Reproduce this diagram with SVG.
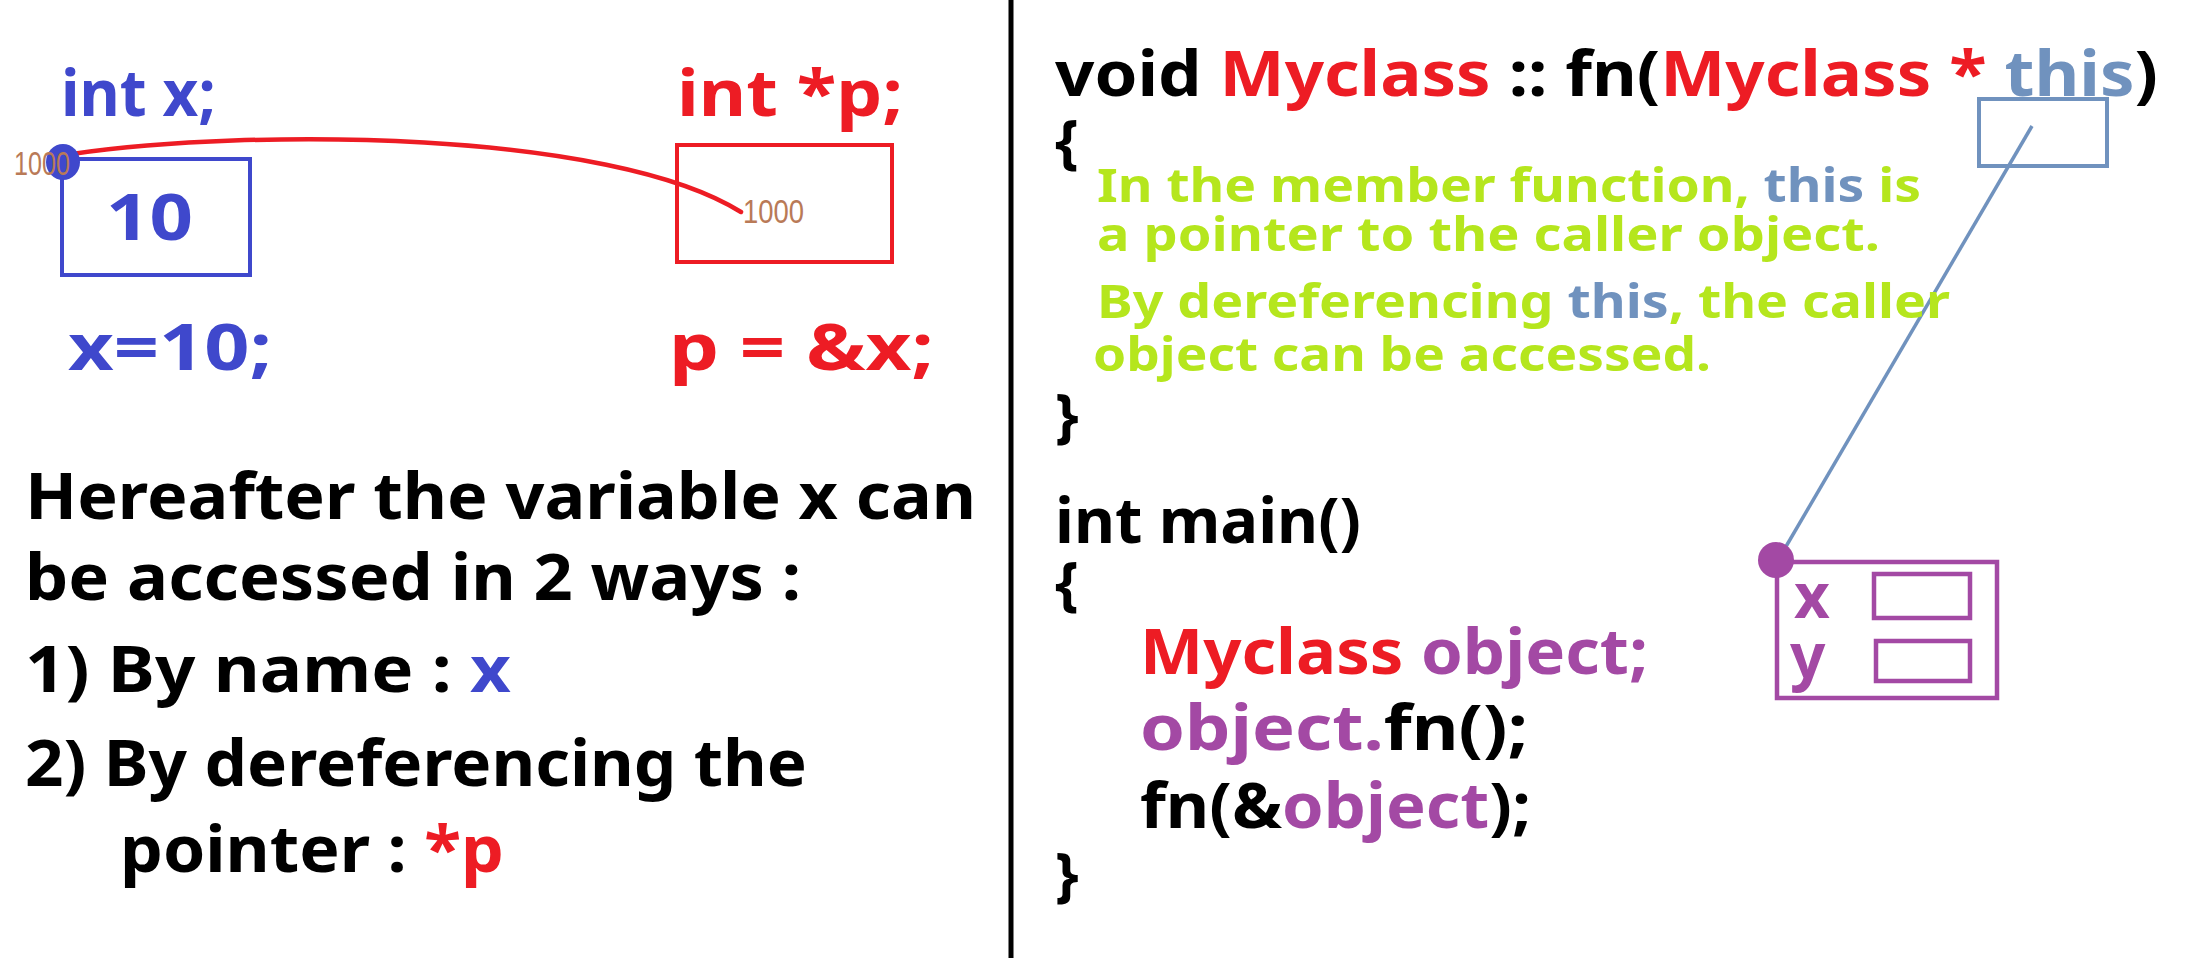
<svg xmlns="http://www.w3.org/2000/svg" width="2212" height="958" viewBox="0 0 2212 958">
<style>
text{font-family:"Noto Sans","DejaVu Sans",sans-serif;font-weight:bold;}
.big{font-size:64px;}
.code{font-size:62px;}
.brace{font-size:60px;}
.note{font-size:47px;fill:#b5e61d;}
.addr{font-family:"Liberation Sans Narrow","Liberation Sans",sans-serif;font-weight:normal;font-size:34px;fill:#b97a57;}
.blue{fill:#3f48cc;}
.red{fill:#ed1c24;}
.blk{fill:#000;}
.tb{fill:#7092be;}
.pur{fill:#a349a4;}
</style>
<rect width="2212" height="958" fill="#fff"/>

<line id="divider" x1="1011" y1="0" x2="1011" y2="958" stroke="#000" stroke-width="5"/>

<g id="connectors" fill="none">
<path d="M72,154 C250,128 610,130 741,212" stroke="#ed1c24" stroke-width="4.5" stroke-linecap="round"/>
<line x1="2032" y1="126" x2="1781" y2="555" stroke="#7092be" stroke-width="3.5"/>
</g>

<g id="var-x">
<text class="big blue" x="61" y="116" textLength="155" lengthAdjust="spacingAndGlyphs">int x;</text>
<rect x="62" y="159" width="188" height="116" fill="none" stroke="#3f48cc" stroke-width="4"/>
<ellipse cx="63" cy="162" rx="17" ry="18" fill="#3f48cc"/>
<text class="addr" x="14" y="175" textLength="56" lengthAdjust="spacingAndGlyphs">1000</text>
<text class="big blue" x="106" y="240" textLength="87" lengthAdjust="spacingAndGlyphs">10</text>
<text class="big blue" x="68" y="370" textLength="204" lengthAdjust="spacingAndGlyphs">x=10;</text>
</g>

<g id="ptr-p">
<text class="big red" x="677" y="116" textLength="226" lengthAdjust="spacingAndGlyphs">int *p;</text>
<rect x="677" y="145" width="215" height="117" fill="none" stroke="#ed1c24" stroke-width="4"/>
<text class="addr" x="743" y="223" textLength="61" lengthAdjust="spacingAndGlyphs">1000</text>
<text class="big red" x="669" y="370" textLength="265" lengthAdjust="spacingAndGlyphs">p = &amp;x;</text>
</g>

<g id="explanation">
<text class="big blk" x="25" y="519" textLength="951" lengthAdjust="spacingAndGlyphs">Hereafter the variable x can</text>
<text class="big blk" x="25" y="600" textLength="776" lengthAdjust="spacingAndGlyphs">be accessed in 2 ways :</text>
<text class="big blk" x="25" y="692" textLength="486" lengthAdjust="spacingAndGlyphs">1) By name : <tspan class="blue">x</tspan></text>
<text class="big blk" x="25" y="786" textLength="782" lengthAdjust="spacingAndGlyphs">2) By dereferencing the</text>
<text class="big blk" x="120" y="872" textLength="384" lengthAdjust="spacingAndGlyphs">pointer : <tspan class="red">*p</tspan></text>
</g>

<g id="member-fn">
<text class="code blk" x="1055" y="96" textLength="1103" lengthAdjust="spacingAndGlyphs">void <tspan class="red">Myclass</tspan> :: fn(<tspan class="red">Myclass *</tspan> <tspan class="tb">this</tspan>)</text>
<text class="brace blk" x="1055" y="162">{</text>
<text class="note" x="1097" y="202" textLength="824" lengthAdjust="spacingAndGlyphs">In the member function, <tspan class="tb">this</tspan> is</text>
<text class="note" x="1097" y="251" textLength="783" lengthAdjust="spacingAndGlyphs">a pointer to the caller object.</text>
<text class="note" x="1097" y="318" textLength="853" lengthAdjust="spacingAndGlyphs">By dereferencing <tspan class="tb">this</tspan>, the caller</text>
<text class="note" x="1093" y="371" textLength="618" lengthAdjust="spacingAndGlyphs">object can be accessed.</text>
<text class="brace blk" x="1055" y="436">}</text>
</g>

<g id="this-box">
<rect x="1979" y="99" width="128" height="67" fill="none" stroke="#7092be" stroke-width="4"/>
</g>

<g id="main-fn">
<text class="code blk" x="1055" y="543" textLength="306" lengthAdjust="spacingAndGlyphs">int main()</text>
<text class="brace blk" x="1055" y="604">{</text>
<text class="code pur" x="1140" y="674" textLength="508" lengthAdjust="spacingAndGlyphs"><tspan class="red">Myclass</tspan> object;</text>
<text class="code blk" x="1140" y="750" textLength="388" lengthAdjust="spacingAndGlyphs"><tspan class="pur">object.</tspan>fn();</text>
<text class="code blk" x="1140" y="828" textLength="391" lengthAdjust="spacingAndGlyphs">fn(&amp;<tspan class="pur">object</tspan>);</text>
<text class="brace blk" x="1055" y="895">}</text>
</g>

<g id="object-box">
<rect x="1777" y="562" width="220" height="136" fill="none" stroke="#a349a4" stroke-width="4.5"/>
<circle cx="1776" cy="560" r="18" fill="#a349a4"/>
<text class="code pur" x="1794" y="618">x</text>
<rect x="1874" y="574" width="96" height="44" fill="none" stroke="#a349a4" stroke-width="4.5"/>
<text class="code pur" x="1790" y="678">y</text>
<rect x="1876" y="641" width="94" height="40" fill="none" stroke="#a349a4" stroke-width="4.5"/>
</g>
</svg>
